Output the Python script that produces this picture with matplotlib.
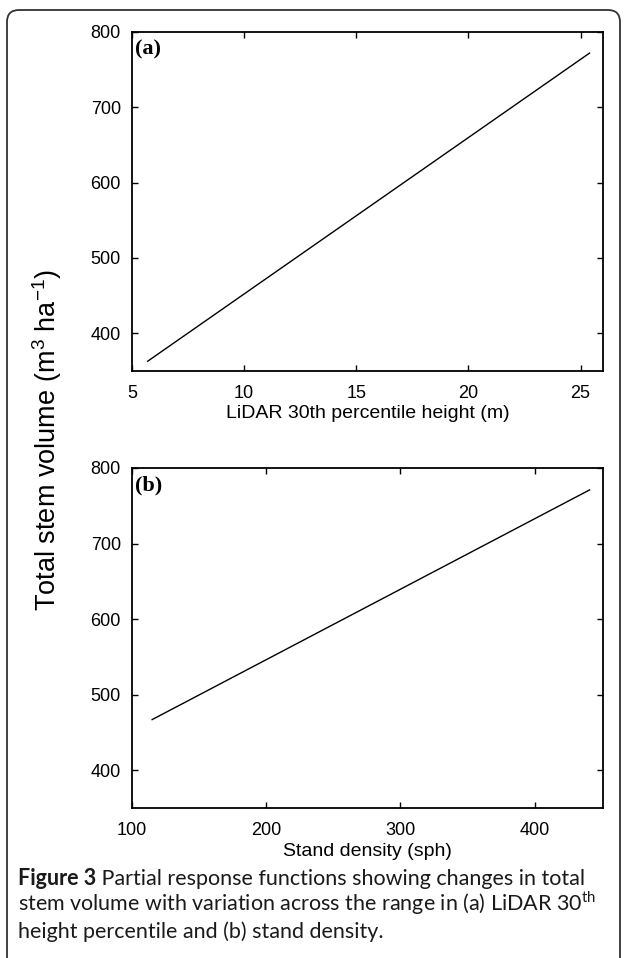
import matplotlib
matplotlib.use('Agg')
import matplotlib.pyplot as plt
from matplotlib.patches import FancyBboxPatch
from matplotlib.transforms import IdentityTransform

# partial response lines
height_x = [5.7, 25.4]
height_vol = [363, 772]
density_x = [115, 441]
density_vol = [467, 771]

height_ticks = [5, 10, 15, 20, 25]
density_ticks = [100, 200, 300, 400]
vol_ticks = [400, 500, 600, 700, 800]

caption = ['Figure 3',
           ' Partial response functions showing changes in total',
           r'stem volume with variation across the range in (a) LiDAR 30$^{\mathsf{th}}$',
           'height percentile and (b) stand density.']

plt.rcParams['font.family'] = ['Liberation Sans', 'DejaVu Sans']
plt.rcParams['mathtext.fontset'] = 'custom'
plt.rcParams['mathtext.rm'] = 'Liberation Sans'
plt.rcParams['mathtext.sf'] = 'Lato'

fig = plt.figure(figsize=(6.24, 9.58), dpi=100)
W, H = 624, 958


def make_axes(top, bottom):
    ax = fig.add_axes([132 / W, (H - bottom) / H, 471 / W, (bottom - top) / H])
    ax.tick_params(direction='in', length=4, width=1.0, top=True, right=True,
                   labelsize=13)
    ax.tick_params(axis='x', pad=10)
    ax.tick_params(axis='y', pad=8)
    for s in ax.spines.values():
        s.set_linewidth(1.3)
    return ax


ax1 = make_axes(32, 371)
ax1.plot(height_x, height_vol, color='black', lw=1.0)
ax1.set_xlim(5, 26)
ax1.set_ylim(350, 800)
ax1.set_xticks(height_ticks)
ax1.set_yticks(vol_ticks)
ax1.set_xlabel('LiDAR 30th percentile height (m)', fontsize=14, labelpad=2)
ax1.text(0.006, 0.978, '(a)', transform=ax1.transAxes, ha='left', va='top',
         family='Liberation Serif', fontweight='bold', fontsize=16)

ax2 = make_axes(468, 808)
ax2.plot(density_x, density_vol, color='black', lw=1.0)
ax2.set_xlim(100, 451)
ax2.set_ylim(350, 800)
ax2.set_xticks(density_ticks)
ax2.set_yticks(vol_ticks)
ax2.set_xlabel('Stand density (sph)', fontsize=14, labelpad=3)
ax2.text(0.006, 0.978, '(b)', transform=ax2.transAxes, ha='left', va='top',
         family='Liberation Serif', fontweight='bold', fontsize=16)

fig.text(47 / W, (H - 440) / H, r'Total stem volume (m$^3$ ha$^{-1}$)',
         rotation=90, ha='center', va='center', fontsize=19.5)

# caption, sized so the first line spans the same width as the original
r = fig.canvas.get_renderer()
cap_kw = dict(family='Lato', color='#1a1a1a', va='baseline')
x0 = 18 / W
size = 12
probe = fig.text(x0, 0, caption[0] + caption[1], fontsize=size, **cap_kw)
size = size * 565 / probe.get_window_extent(renderer=r).width
probe.remove()

t = fig.text(x0, (H - 885) / H, caption[0], fontweight='bold', fontsize=size, **cap_kw)
bb = t.get_window_extent(renderer=r)
fig.text(bb.x1 / W, (H - 885) / H, caption[1], fontsize=size, **cap_kw)
fig.text(x0, (H - 911) / H, caption[2], fontsize=size, **cap_kw)
fig.text(x0, (H - 938) / H, caption[3], fontsize=size, **cap_kw)

# rounded frame around the figure
frame = FancyBboxPatch((7, -30), 613, H - 10 + 30,
                       boxstyle='round,pad=0,rounding_size=12',
                       transform=IdentityTransform(), fill=False,
                       edgecolor='#333333', linewidth=1.3)
fig.patches.append(frame)

fig.savefig('out.png', dpi=100)
